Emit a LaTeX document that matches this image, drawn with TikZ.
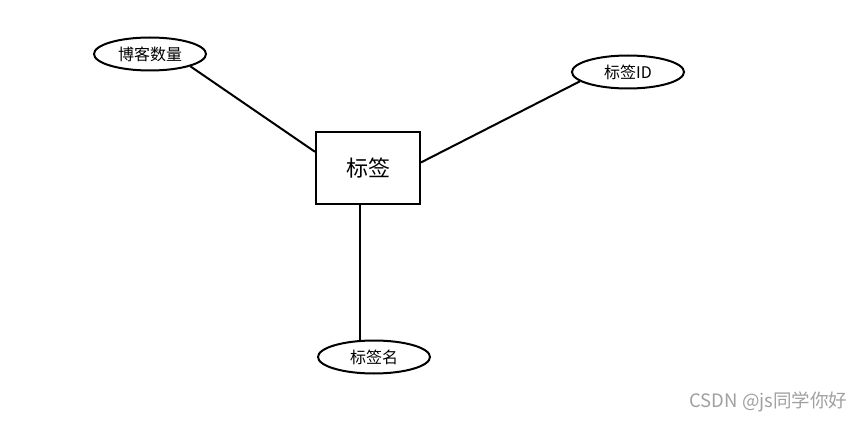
\documentclass[tikz,border=0pt]{standalone}
\usepackage{fontspec}
\setmainfont{Noto Sans CJK SC}
\usetikzlibrary{shapes.geometric}
\definecolor{markgray}{RGB}{160,160,160}

\begin{document}
\begin{tikzpicture}[x=1pt,y=-1pt,
  entitybox/.style={draw,line width=2pt,minimum width=104pt,minimum height=72pt,inner sep=0pt,font=\fontsize{22}{26}\selectfont},
  attrnode/.style={draw,ellipse,line width=2pt,minimum width=112pt,minimum height=33pt,inner sep=0pt,font=\fontsize{16}{19}\selectfont},
  link/.style={line width=2pt}]
  \useasboundingbox (0,0) rectangle (865,422);
  \node[entitybox] (tag) at (368,168) {标签};
  \node[attrnode] (count) at (150,54) {博客数量};
  \node[attrnode] (tagid) at (628,72) {标签ID};
  \node[attrnode] (tagname) at (374,357) {标签名};
  \draw[link] (count.-17) -- (tag.163);
  \draw[link] (tagid.-169) -- (tag.6);
  \draw[link] (tag.-102) -- (tag.-102 |- tagname.north);
  \node[font=\fontsize{18.5}{22}\selectfont,text=markgray,anchor=east] (mark) at (851,402) {CSDN @js同学你好};
\end{tikzpicture}
\end{document}
